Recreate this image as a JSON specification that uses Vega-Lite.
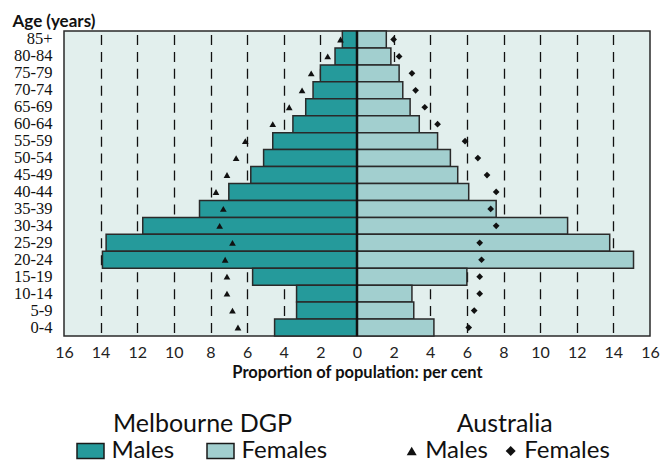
{
  "$schema": "https://vega.github.io/schema/vega-lite/v6.json",
  "width": 586,
  "height": 305,
  "autosize": {"type": "none"},
  "padding": {"left": 64, "top": 31, "right": 11, "bottom": 127},
  "background": "white",
  "config": {
    "view": {"fill": "#e2efed", "stroke": "#2a2a2a", "strokeWidth": 1.5},
    "font": "Lato",
    "axisY": {
      "labelFont": "Liberation Serif", "labelFontSize": 16.5, "labelColor": "#111",
      "labelPadding": 12, "ticks": false, "domain": false, "grid": false, "labelOverlap": false,
      "titleFont": "Lato", "titleFontSize": 17, "titleFontWeight": "bold", "titleColor": "#111"
    },
    "axisX": {
      "labelFont": "Lato", "labelFontSize": 16, "labelColor": "#222", "labelPadding": 8,
      "labelFlush": false, "labelOverlap": false, "tickCount": 40,
      "ticks": false, "domain": false,
      "titleFont": "Lato", "titleFontSize": 16.5, "titleFontWeight": "bold", "titleColor": "#111",
      "titlePadding": 4
    },
    "legend": {
      "orient": "none", "direction": "horizontal", "columns": 2, "padding": 0,
      "titleAnchor": "middle", "titleFont": "Lato", "titleFontSize": 25, "titleFontWeight": "normal",
      "titleColor": "#111", "titlePadding": 2, "titleLimit": 0,
      "labelFont": "Lato", "labelFontSize": 24, "labelColor": "#111", "labelLimit": 0
    }
  },
  "data": {
    "values": [
      {"age": "85+", "sex": "Males", "source": "DGP", "pct": 0.8},
      {"age": "80-84", "sex": "Males", "source": "DGP", "pct": 1.2},
      {"age": "75-79", "sex": "Males", "source": "DGP", "pct": 2.0},
      {"age": "70-74", "sex": "Males", "source": "DGP", "pct": 2.4},
      {"age": "65-69", "sex": "Males", "source": "DGP", "pct": 2.8},
      {"age": "60-64", "sex": "Males", "source": "DGP", "pct": 3.5},
      {"age": "55-59", "sex": "Males", "source": "DGP", "pct": 4.6},
      {"age": "50-54", "sex": "Males", "source": "DGP", "pct": 5.1},
      {"age": "45-49", "sex": "Males", "source": "DGP", "pct": 5.8},
      {"age": "40-44", "sex": "Males", "source": "DGP", "pct": 7.0},
      {"age": "35-39", "sex": "Males", "source": "DGP", "pct": 8.6},
      {"age": "30-34", "sex": "Males", "source": "DGP", "pct": 11.7},
      {"age": "25-29", "sex": "Males", "source": "DGP", "pct": 13.7},
      {"age": "20-24", "sex": "Males", "source": "DGP", "pct": 13.9},
      {"age": "15-19", "sex": "Males", "source": "DGP", "pct": 5.7},
      {"age": "10-14", "sex": "Males", "source": "DGP", "pct": 3.3},
      {"age": "5-9", "sex": "Males", "source": "DGP", "pct": 3.3},
      {"age": "0-4", "sex": "Males", "source": "DGP", "pct": 4.5},
      {"age": "85+", "sex": "Females", "source": "DGP", "pct": 1.6},
      {"age": "80-84", "sex": "Females", "source": "DGP", "pct": 1.85},
      {"age": "75-79", "sex": "Females", "source": "DGP", "pct": 2.3},
      {"age": "70-74", "sex": "Females", "source": "DGP", "pct": 2.5},
      {"age": "65-69", "sex": "Females", "source": "DGP", "pct": 2.9},
      {"age": "60-64", "sex": "Females", "source": "DGP", "pct": 3.4},
      {"age": "55-59", "sex": "Females", "source": "DGP", "pct": 4.4},
      {"age": "50-54", "sex": "Females", "source": "DGP", "pct": 5.1},
      {"age": "45-49", "sex": "Females", "source": "DGP", "pct": 5.5},
      {"age": "40-44", "sex": "Females", "source": "DGP", "pct": 6.1},
      {"age": "35-39", "sex": "Females", "source": "DGP", "pct": 7.6},
      {"age": "30-34", "sex": "Females", "source": "DGP", "pct": 11.5},
      {"age": "25-29", "sex": "Females", "source": "DGP", "pct": 13.8},
      {"age": "20-24", "sex": "Females", "source": "DGP", "pct": 15.1},
      {"age": "15-19", "sex": "Females", "source": "DGP", "pct": 6.0},
      {"age": "10-14", "sex": "Females", "source": "DGP", "pct": 3.0},
      {"age": "5-9", "sex": "Females", "source": "DGP", "pct": 3.1},
      {"age": "0-4", "sex": "Females", "source": "DGP", "pct": 4.2},
      {"age": "85+", "sex": "Males", "source": "AUS", "pct": 0.9},
      {"age": "80-84", "sex": "Males", "source": "AUS", "pct": 1.6},
      {"age": "75-79", "sex": "Males", "source": "AUS", "pct": 2.5},
      {"age": "70-74", "sex": "Males", "source": "AUS", "pct": 3.0},
      {"age": "65-69", "sex": "Males", "source": "AUS", "pct": 3.7},
      {"age": "60-64", "sex": "Males", "source": "AUS", "pct": 4.6},
      {"age": "55-59", "sex": "Males", "source": "AUS", "pct": 6.1},
      {"age": "50-54", "sex": "Males", "source": "AUS", "pct": 6.6},
      {"age": "45-49", "sex": "Males", "source": "AUS", "pct": 7.1},
      {"age": "40-44", "sex": "Males", "source": "AUS", "pct": 7.7},
      {"age": "35-39", "sex": "Males", "source": "AUS", "pct": 7.3},
      {"age": "30-34", "sex": "Males", "source": "AUS", "pct": 7.5},
      {"age": "25-29", "sex": "Males", "source": "AUS", "pct": 6.8},
      {"age": "20-24", "sex": "Males", "source": "AUS", "pct": 7.2},
      {"age": "15-19", "sex": "Males", "source": "AUS", "pct": 7.1},
      {"age": "10-14", "sex": "Males", "source": "AUS", "pct": 7.1},
      {"age": "5-9", "sex": "Males", "source": "AUS", "pct": 6.8},
      {"age": "0-4", "sex": "Males", "source": "AUS", "pct": 6.5},
      {"age": "85+", "sex": "Females", "source": "AUS", "pct": 2.0},
      {"age": "80-84", "sex": "Females", "source": "AUS", "pct": 2.3},
      {"age": "75-79", "sex": "Females", "source": "AUS", "pct": 3.0},
      {"age": "70-74", "sex": "Females", "source": "AUS", "pct": 3.2},
      {"age": "65-69", "sex": "Females", "source": "AUS", "pct": 3.7},
      {"age": "60-64", "sex": "Females", "source": "AUS", "pct": 4.4},
      {"age": "55-59", "sex": "Females", "source": "AUS", "pct": 5.9},
      {"age": "50-54", "sex": "Females", "source": "AUS", "pct": 6.6},
      {"age": "45-49", "sex": "Females", "source": "AUS", "pct": 7.1},
      {"age": "40-44", "sex": "Females", "source": "AUS", "pct": 7.6},
      {"age": "35-39", "sex": "Females", "source": "AUS", "pct": 7.3},
      {"age": "30-34", "sex": "Females", "source": "AUS", "pct": 7.6},
      {"age": "25-29", "sex": "Females", "source": "AUS", "pct": 6.7},
      {"age": "20-24", "sex": "Females", "source": "AUS", "pct": 6.8},
      {"age": "15-19", "sex": "Females", "source": "AUS", "pct": 6.7},
      {"age": "10-14", "sex": "Females", "source": "AUS", "pct": 6.7},
      {"age": "5-9", "sex": "Females", "source": "AUS", "pct": 6.4},
      {"age": "0-4", "sex": "Females", "source": "AUS", "pct": 6.1}
    ]
  },
  "transform": [
    {"calculate": "datum.sex === 'Males' ? -datum.pct : datum.pct", "as": "signed"}
  ],
  "layer": [
    {
      "transform": [{"filter": "datum.source === 'DGP'"}],
      "mark": {"type": "bar", "stroke": "#2a2a2a", "strokeWidth": 1.5},
      "encoding": {
        "y": {
          "field": "age", "type": "ordinal",
          "sort": ["85+", "80-84", "75-79", "70-74", "65-69", "60-64", "55-59", "50-54", "45-49", "40-44", "35-39", "30-34", "25-29", "20-24", "15-19", "10-14", "5-9", "0-4"],
          "scale": {"paddingInner": 0, "paddingOuter": 0},
          "axis": {
            "title": "Age (years)",
            "titleAngle": 0, "titleX": -52, "titleY": -5,
            "titleAlign": "left", "titleBaseline": "alphabetic"
          }
        },
        "x": {
          "field": "signed", "type": "quantitative",
          "scale": {"domain": [-16, 16], "nice": false, "zero": false},
          "axis": {
            "values": [-16, -14, -12, -10, -8, -6, -4, -2, 0, 2, 4, 6, 8, 10, 12, 14, 16],
            "tickCount": 40,
            "labelExpr": "abs(datum.value)",
            "title": "Proportion of population: per cent",
            "grid": true, "gridColor": "#111", "gridWidth": 1.3,
            "gridDash": [10, 6.944], "gridDashOffset": 13.47,
            "gridOpacity": {"condition": {"test": "abs(datum.value) == 16 || datum.value == 0", "value": 0}, "value": 1}
          }
        },
        "fill": {
          "field": "sex", "type": "nominal",
          "sort": ["Males", "Females"],
          "scale": {"range": ["#259a9b", "#a2cfcf"]},
          "legend": {
            "title": "Melbourne DGP",
            "legendX": 14.5, "legendY": 381,
            "labelOffset": 9, "columnPadding": 29,
            "symbolType": "M-1.8,-1H1.8V1H-1.8Z", "symbolSize": 225,
            "symbolStrokeColor": "#1a1a1a", "symbolStrokeWidth": 1.5, "symbolOpacity": 1
          }
        }
      }
    },
    {
      "data": {"values": [{}]},
      "mark": {"type": "rule", "color": "#111", "strokeWidth": 2.5},
      "encoding": {"x": {"datum": 0, "type": "quantitative"}}
    },
    {
      "transform": [{"filter": "datum.source === 'AUS'"}],
      "mark": {"type": "point", "filled": true, "color": "#111", "size": 45, "opacity": 1},
      "encoding": {
        "y": {"field": "age", "type": "ordinal", "sort": ["85+", "80-84", "75-79", "70-74", "65-69", "60-64", "55-59", "50-54", "45-49", "40-44", "35-39", "30-34", "25-29", "20-24", "15-19", "10-14", "5-9", "0-4"]},
        "x": {"field": "signed", "type": "quantitative"},
        "shape": {
          "field": "sex", "type": "nominal",
          "sort": ["Males", "Females"],
          "scale": {"range": ["triangle-up", "diamond"]},
          "legend": {
            "title": "Australia",
            "legendX": 335.7, "legendY": 381,
            "labelOffset": 1.5, "columnPadding": 10,
            "symbolSize": 100, "symbolFillColor": "#111", "symbolStrokeWidth": 0, "symbolOpacity": 1
          }
        }
      }
    }
  ]
}
